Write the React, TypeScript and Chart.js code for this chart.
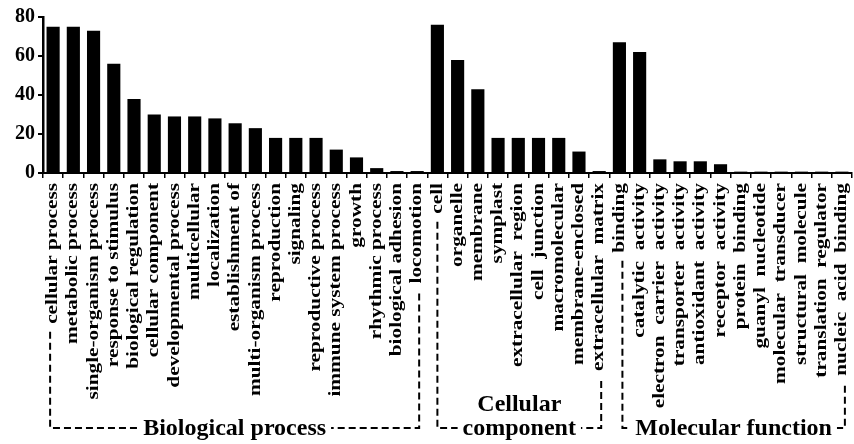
import React, { useEffect, useRef } from "react";
import { Chart, registerables } from "chart.js";

Chart.register(...registerables);

const bpLabels = [
  "cellular process", "metabolic process", "single-organism process", "response to stimulus",
  "biological regulation", "cellular component", "developmental process", "multicellular",
  "localization", "establishment of", "multi-organism process", "reproduction", "signaling",
  "reproductive process", "immune system process", "growth", "rhythmic process",
  "biological adhesion", "locomotion",
];
const bpValues = [75, 75, 73, 56, 38, 30, 29, 29, 28, 25.5, 23, 18, 18, 18, 12, 8, 2.5, 1, 1];

const ccLabels = [
  "cell", "organelle", "membrane", "symplast", "extracellular  region", "cell  junction",
  "macromolecular", "membrane-enclosed", "extracellular  matrix",
];
const ccValues = [76, 58, 43, 18, 18, 18, 18, 11, 1];

const mfLabels = [
  "binding", "catalytic  activity", "electron  carrier  activity", "transporter  activity",
  "antioxidant  activity", "receptor  activity", "protein  binding", "guanyl  nucleotide",
  "molecular  transducer", "structural  molecule", "translation  regulator", "nucleic  acid  binding",
];
const mfValues = [67, 62, 7, 6, 6, 4.5, 0.7, 0.7, 0.7, 0.7, 0.7, 0.7];

const groupNames = ["Biological process", "Cellular\ncomponent", "Molecular function"];

const yTicks = [0, 20, 40, 60, 80];

const FONT = "'Liberation Serif', 'Times New Roman', serif";

export default function App() {
  const ref = useRef<HTMLCanvasElement | null>(null);

  useEffect(() => {
    const labels = [...bpLabels, ...ccLabels, ...mfLabels];
    const values = [...bpValues, ...ccValues, ...mfValues];
    const groups = [
      { name: groupNames[0], start: 0, end: bpLabels.length - 1, dl: -3, dr: 2 },
      { name: groupNames[1], start: bpLabels.length, end: bpLabels.length + ccLabels.length - 1, dl: 0, dr: 2 },
      {
        name: groupNames[2],
        start: bpLabels.length + ccLabels.length,
        end: labels.length - 1,
        dl: 3,
        dr: 3,
      },
    ];
    const tickFontSize = 16;
    const stretch = 1.33;

    const labelPlugin = {
      id: "labelsAndGroups",
      afterDraw(chart: any) {
        const ctx = chart.ctx as CanvasRenderingContext2D;
        const xs = chart.scales.x;
        const labelTop = xs.top + 10;
        ctx.save();
        ctx.fillStyle = "#000";
        ctx.font = `bold ${tickFontSize}px ${FONT}`;
        const ends: number[] = [];
        labels.forEach((lab, i) => {
          const x = xs.getPixelForValue(i);
          ctx.save();
          ctx.translate(x, labelTop);
          ctx.rotate(-Math.PI / 2);
          ctx.scale(stretch, 1);
          ctx.textAlign = "right";
          ctx.textBaseline = "middle";
          ctx.fillText(lab, 0, 0);
          ctx.restore();
          ends.push(labelTop + ctx.measureText(lab).width * stretch);
        });

        const lineY = 428;
        ctx.strokeStyle = "#000";
        ctx.lineWidth = 2;
        ctx.setLineDash([7, 4]);
        groups.forEach((g) => {
          const xl = xs.getPixelForValue(g.start) + g.dl;
          const xr = xs.getPixelForValue(g.end) + g.dr;
          const yl = ends[g.start] + 8;
          const yr = ends[g.end] + 10;
          ctx.font = `bold 24px ${FONT}`;
          const lines = g.name.split("\n");
          const last = lines[lines.length - 1];
          const tw = ctx.measureText(last).width;
          const cx = (xl + xr) / 2;
          ctx.beginPath();
          ctx.moveTo(xl, yl);
          ctx.lineTo(xl, lineY);
          ctx.lineTo(cx - tw / 2 - 5, lineY);
          ctx.stroke();
          ctx.beginPath();
          ctx.moveTo(xr, yr);
          ctx.lineTo(xr, lineY);
          ctx.lineTo(cx + tw / 2 + 5, lineY);
          ctx.stroke();
          ctx.textAlign = "center";
          ctx.textBaseline = "middle";
          lines.forEach((ln, k) => {
            ctx.fillText(ln, cx, lineY + 1 - (lines.length - 1 - k) * 24);
          });
        });
        ctx.restore();
      },
    };

    const chart = new Chart(ref.current as HTMLCanvasElement, {
      type: "bar",
      data: {
        labels,
        datasets: [
          {
            data: values,
            backgroundColor: "#000",
            borderWidth: 0,
            barPercentage: 0.65,
            categoryPercentage: 1,
          },
        ],
      },
      options: {
        animation: false,
        responsive: true,
        maintainAspectRatio: false,
        layout: { padding: { top: 17, right: 2, left: 0, bottom: 0 } },
        plugins: { legend: { display: false }, tooltip: { enabled: false } },
        scales: {
          x: {
            grid: {
              display: true,
              drawOnChartArea: false,
              drawTicks: true,
              tickLength: 5,
              color: "#000",
              lineWidth: 1.5,
            },
            border: { display: true, color: "#000", width: 2 },
            ticks: {
              display: false,
              autoSkip: false,
            },
            afterFit(s: any) {
              s.height = 271;
            },
          },
          y: {
            min: 0,
            max: 80,
            afterBuildTicks(s: any) {
              s.ticks = yTicks.map((v) => ({ value: v }));
            },
            grid: {
              display: true,
              drawOnChartArea: false,
              drawTicks: true,
              tickLength: 5,
              color: "#000",
              lineWidth: 2,
            },
            border: { display: true, color: "#000", width: 2.5 },
            ticks: {
              padding: 3,
              color: "#000",
              font: { family: FONT, size: 20, weight: "bold" },
            },
            afterFit(s: any) {
              s.width = 43;
            },
          },
        },
      },
      plugins: [labelPlugin],
    });
    return () => chart.destroy();
  }, []);

  return (
    <div style={{ position: "fixed", left: 0, top: 0, width: 854, height: 444, background: "#fff" }}>
      <canvas ref={ref} />
    </div>
  );
}
